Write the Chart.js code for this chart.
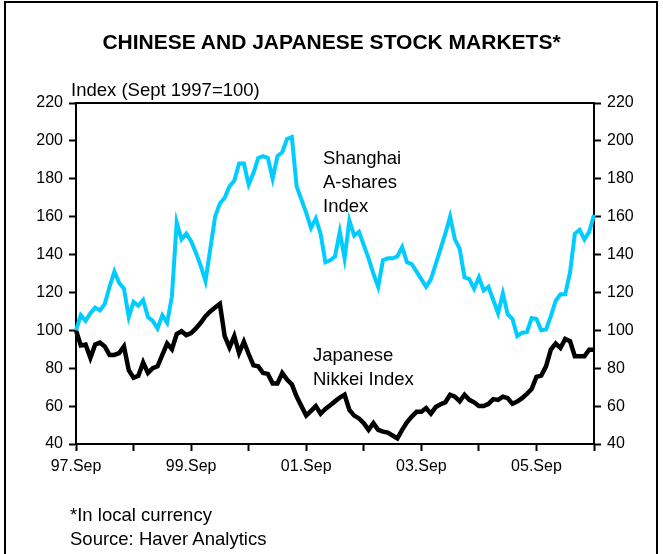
<!DOCTYPE html>
<html>
<head>
<meta charset="utf-8">
<script src="https://cdn.jsdelivr.net/npm/chart.js@4.4.1/dist/chart.umd.min.js"></script>
<style>
  html, body { margin: 0; padding: 0; background: #fff; overflow: hidden; }
  #wrap { position: relative; width: 663px; height: 554px; font-family: "Liberation Sans", Arial, sans-serif; color: #000; }
  #frame { position: absolute; left: 4px; top: 1px; width: 650px; height: 600px; border: 2px solid #000; border-bottom: none; }
  canvas { position: absolute; left: 0; top: 0; }
  .txt { position: absolute; font-size: 18.5px; line-height: 24px; white-space: nowrap; }
  #title { position: absolute; left: 0; width: 663px; top: 29px; line-height: 26px; text-align: center; font-weight: bold; font-size: 21px; }
</style>
</head>
<body>
<div id="wrap">
  <div id="frame"></div>
  <canvas id="myChart" width="663" height="554"></canvas>
  <div id="title">CHINESE AND JAPANESE STOCK MARKETS*</div>
  <div class="txt" style="left:71px; top:78px;">Index (Sept 1997=100)</div>
  <div class="txt" style="left:323px; top:146px;">Shanghai<br>A-shares<br>Index</div>
  <div class="txt" style="left:313px; top:343px;">Japanese<br>Nikkei Index</div>
  <div class="txt" style="left:70px; top:503px;">*In local currency<br>Source: Haver Analytics</div>
</div>
<script>
/*** data: monthly, Sep 1997 .. Sep 2006 */
const shanghai = [
  100, 108, 105, 109, 112, 110.5, 114, 123, 131, 125, 122, 107,
  115, 113, 116, 107, 105, 101, 108, 104, 118, 157, 148, 151,
  147, 141, 134, 126, 143, 160, 167, 170, 176, 179, 188, 188,
  177, 183, 191, 192, 191, 180, 192, 194, 201, 202, 176, 169,
  162, 154, 159, 151, 136, 137, 139, 152, 138, 158, 150, 152,
  145, 138, 130, 123, 137, 138, 138, 139, 144, 136, 135, 131,
  127, 123, 127, 135, 143, 151, 160, 148, 143, 128, 127, 122,
  128, 121, 123, 116, 109, 119.5, 108.5, 106, 97, 98.7, 99, 106.5,
  106, 100, 100.5, 107.5, 115.5, 119, 119, 130.5, 151, 153, 148, 152,
  161
];
const nikkei = [
  100, 92, 92.5, 85.5, 92.5, 93.5, 91.5, 87, 87, 88, 91.5, 79,
  75, 76, 83, 77.5, 80, 81, 87, 93, 90, 98, 99.5, 97.5,
  98.5, 101, 104, 107.5, 110, 112, 114, 97, 91, 97, 88, 94,
  87.5, 81.5, 81, 77.5, 77, 72, 72, 77.5, 74, 71.5, 65, 60,
  55, 57.5, 60, 56, 58.5, 60.5, 62.5, 64.5, 66, 58, 55, 53.5,
  51, 47.5, 51, 47.5, 46.5, 46, 44.5, 43, 47.5, 51.5, 54.5, 57,
  57, 59, 56, 59.5, 61, 62, 66, 65, 62.5, 66, 63.3, 62,
  60, 60, 61.2, 63.7, 63.3, 65, 64.2, 61.2, 62.4, 64.2, 66.5, 69,
  75.4, 76.1, 81, 89.8, 93, 90.7, 95.5, 94.3, 86.3, 86.3, 86.3, 89.8,
  89.8
];
const tickLabels = ['97.Sep', '99.Sep', '01.Sep', '03.Sep', '05.Sep'];
const yMin = 40, yMax = 220, yStep = 20;

const monNames = ['Jan','Feb','Mar','Apr','May','Jun','Jul','Aug','Sep','Oct','Nov','Dec'];
const months = [];
for (let i = 0; i < shanghai.length; i++) {
  const k = 8 + i;
  const yr = (1997 + Math.floor(k / 12)) % 100;
  months.push(String(yr).padStart(2, '0') + '.' + monNames[k % 12]);
}

Chart.defaults.font.family = '"Liberation Sans", Arial, sans-serif';
Chart.defaults.font.size = 16;
Chart.defaults.color = '#000';

// top border of the plot box
const topLine = {
  id: 'topLine',
  afterDraw(chart) {
    const a = chart.chartArea, c = chart.ctx;
    c.save();
    c.strokeStyle = '#000';
    c.lineWidth = 2;
    c.beginPath();
    c.moveTo(a.left, a.top);
    c.lineTo(a.right, a.top);
    c.stroke();
    c.restore();
  }
};

function yAxis(pos, w) {
  return {
    type: 'linear',
    position: pos,
    min: yMin, max: yMax,
    ticks: { stepSize: yStep, padding: 6, color: '#000', font: { size: 16 } },
    grid: { drawOnChartArea: false, tickLength: 7, tickColor: '#000', tickWidth: 2 },
    border: { color: '#000', width: 2 },
    afterFit: s => { s.width = w; }
  };
}

const ctx = document.getElementById('myChart').getContext('2d');
const chart = new Chart(ctx, {
  type: 'line',
  data: {
    labels: months,
    datasets: [
      { label: 'Shanghai A-shares Index', data: shanghai, borderColor: 'rgb(0,204,255)', borderWidth: 4, pointRadius: 0, tension: 0, yAxisID: 'y' },
      { label: 'Japanese Nikkei Index', data: nikkei, borderColor: '#000', borderWidth: 4.5, pointRadius: 0, tension: 0, yAxisID: 'y' }
    ]
  },
  options: {
    responsive: false,
    animation: false,
    layout: { padding: { top: 103, left: 0, right: 0, bottom: 0 } },
    plugins: { legend: { display: false }, tooltip: { enabled: false } },
    scales: {
      x: {
        type: 'category',
        offset: false,
        ticks: {
          autoSkip: false, maxRotation: 0, padding: 6, color: '#000', font: { size: 16 },
          callback: function (value, index) {
            const lab = this.getLabelForValue(value);
            return tickLabels.includes(lab) ? lab : '';
          }
        },
        grid: {
          drawOnChartArea: false, tickLength: 7, tickWidth: 2,
          tickColor: c => (c.index % 12 === 0 ? '#000' : 'rgba(0,0,0,0)')
        },
        border: { color: '#000', width: 2 },
        afterFit: s => { s.height = 110; }
      },
      y: yAxis('left', 76),
      y2: yAxis('right', 69)
    }
  },
  plugins: [topLine]
});
</script>
</body>
</html>
